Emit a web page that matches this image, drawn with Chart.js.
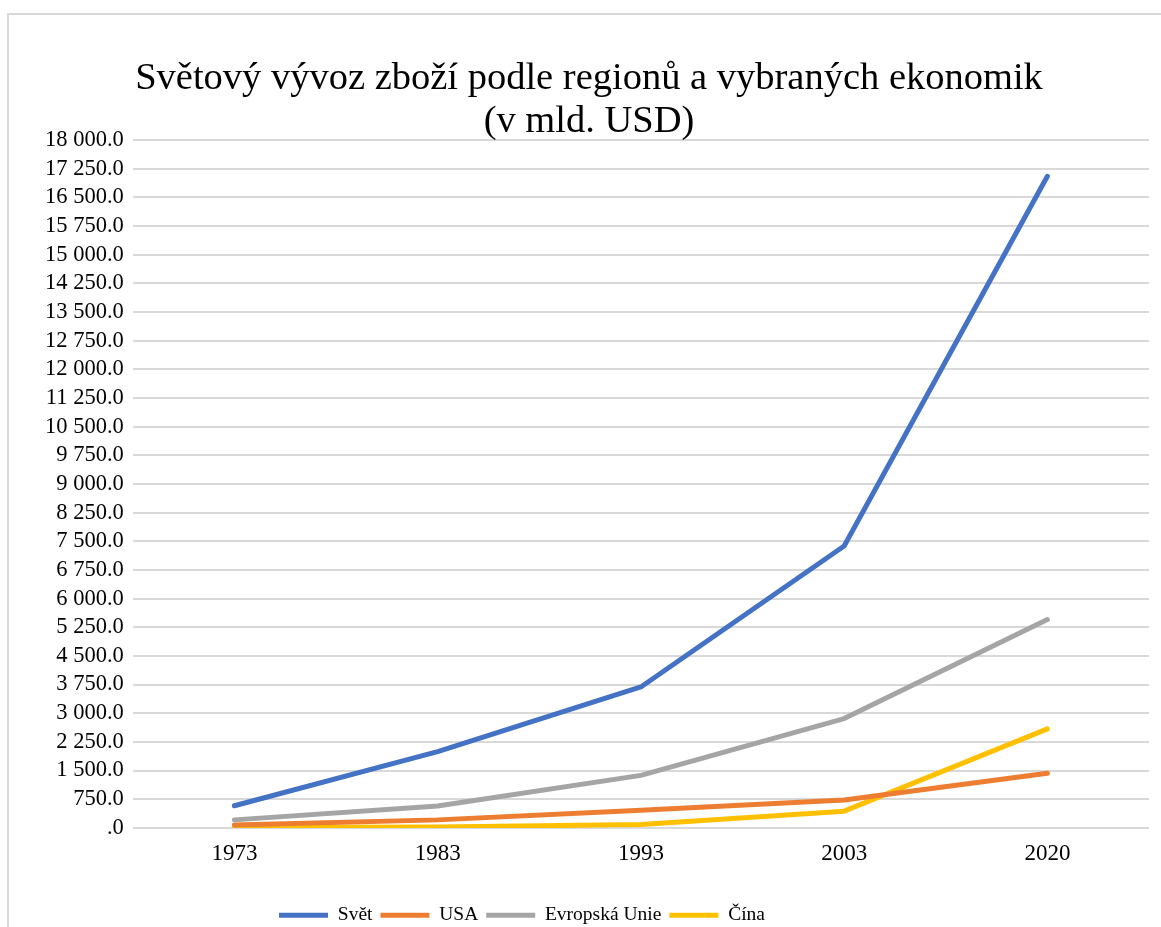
<!DOCTYPE html>
<html>
<head>
<meta charset="utf-8">
<script src="https://cdn.jsdelivr.net/npm/chart.js@4"></script>
<style>
  body { margin: 0; background: #fff; overflow: hidden; }
  .frame {
    position: absolute; left: 7px; top: 13px; width: 1200px; height: 1000px;
    border-top: 2px solid #d9d9d9; border-left: 2px solid #d9d9d9;
  }
  #myChart { position: absolute; left: 0; top: 0; }
</style>
</head>
<body>
<div class="frame"></div>
<canvas id="myChart" width="1161" height="935"></canvas>
<script>
const roky = ["1973", "1983", "1993", "2003", "2020"];
const svet = [579, 1995, 3688, 7375, 17050];
const usa = [75, 210, 465, 730, 1430];
const eu = [210, 575, 1375, 2860, 5450];
const cina = [10, 22, 92, 438, 2590];
const nazvy = ["Svět", "USA", "Evropská Unie", "Čína"];
const barvy = ["#4472C4", "#ED7D31", "#A5A5A5", "#FFC000"];

const font = "'Liberation Serif', 'Times New Roman', serif";

function formatTick(value) {
  if (value === 0) return ".0";
  const s = value.toFixed(1);
  const parts = s.split(".");
  const cela = parts[0].replace(/\B(?=(\d{3})+(?!\d))/g, " ");
  return cela + "." + parts[1];
}

const datasets = [svet, usa, eu, cina].map((data, i) => {
  return {
    label: nazvy[i],
    data,
    borderColor: barvy[i],
    backgroundColor: barvy[i],
    borderWidth: 5,
    borderCapStyle: "round",
    borderJoinStyle: "round",
    pointRadius: 0,
    pointHoverRadius: 0,
    tension: 0
  };
});

// legenda je v originale posunuta doleva
const posunLegendy = {
  id: "posunLegendy",
  afterLayout(chart) {
    chart.legend.left -= 67;
    chart.legend.right -= 67;
  }
};

const config = {
  type: "line",
  data: { labels: roky, datasets },
  plugins: [posunLegendy],
  options: {
    responsive: false,
    animation: false,
    layout: { padding: { left: 29, right: 12, bottom: 0 } },
    plugins: {
      title: {
        display: true,
        text: ["Světový vývoz zboží podle regionů a vybraných ekonomik", "(v mld. USD)"],
        color: "#000",
        font: { family: font, size: 38.5, weight: "normal", lineHeight: 1.117 },
        padding: { top: 57, bottom: -3 }
      },
      legend: {
        position: "bottom",
        labels: {
          color: "#000",
          font: { family: font, size: 19.5 },
          usePointStyle: true,
          pointStyle: "line",
          pointStyleWidth: 49,
          boxHeight: 20,
          padding: 8
        }
      },
      tooltip: { enabled: false }
    },
    scales: {
      x: {
        offset: true,
        grid: { display: false },
        border: { display: false },
        ticks: {
          color: "#000",
          font: { family: font, size: 23 },
          padding: 4
        },
        afterFit: (scale) => {
          scale.height += 26;
        }
      },
      y: {
        min: 0,
        max: 18000,
        grid: { color: "#d9d9d9", lineWidth: 2, drawTicks: false },
        border: { display: false },
        ticks: {
          stepSize: 750,
          autoSkip: false,
          color: "#000",
          font: { family: font, size: 22.5 },
          padding: 9,
          callback: (v) => formatTick(v)
        },
        afterFit: (scale) => {
          scale.width += 7;
        }
      }
    }
  }
};

const myChart = document.getElementById("myChart");
new Chart(myChart, config);
</script>
</body>
</html>
